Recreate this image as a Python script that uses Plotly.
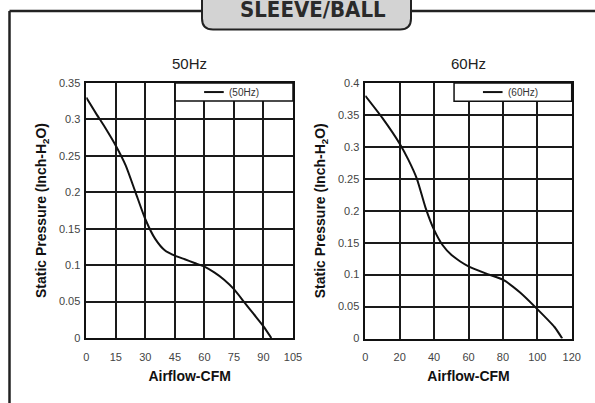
import plotly.graph_objects as go

# ---- data ----
flow_50 = [0, 5, 10, 15, 20, 25, 30, 35, 40, 45, 50, 55, 60, 65, 70, 75, 80, 85, 90, 94]
pres_50 = [0.330, 0.308, 0.287, 0.264, 0.237, 0.200, 0.163, 0.136, 0.120, 0.113,
           0.108, 0.103, 0.098, 0.090, 0.080, 0.067, 0.050, 0.033, 0.016, 0.0]
flow_60 = [0, 10, 20, 25, 30, 35, 40, 45, 50, 55, 60, 70, 80, 90, 100, 110, 114.5]
pres_60 = [0.380, 0.345, 0.305, 0.280, 0.250, 0.205, 0.170, 0.146, 0.131, 0.121,
           0.113, 0.102, 0.092, 0.072, 0.046, 0.018, 0.0]
x_ticks_50 = [0, 15, 30, 45, 60, 75, 90, 105]
y_ticks_50 = [0, 0.05, 0.1, 0.15, 0.2, 0.25, 0.3, 0.35]
x_ticks_60 = [0, 20, 40, 60, 80, 100, 120]
y_ticks_60 = [0, 0.05, 0.1, 0.15, 0.2, 0.25, 0.3, 0.35, 0.4]
panel_titles = ["50Hz", "60Hz"]
legend_names = ["(50Hz)", "(60Hz)"]
header = "SLEEVE/BALL"

W, H = 595, 403
def px(x):
    return x / W
def py(y):
    return 1 - y / H

FONT = "Liberation Sans, Arial, sans-serif"
fig = go.Figure()

fig.add_trace(go.Scatter(x=flow_50, y=pres_50, mode="lines", name=legend_names[0],
                         line=dict(color="#111", width=2, shape="spline", smoothing=0.6),
                         xaxis="x", yaxis="y", showlegend=False, hoverinfo="skip"))
fig.add_trace(go.Scatter(x=flow_60, y=pres_60, mode="lines", name=legend_names[1],
                         line=dict(color="#111", width=2, shape="spline", smoothing=0.6),
                         xaxis="x2", yaxis="y2", showlegend=False, hoverinfo="skip"))

ytitle = "<b>Static Pressure (Inch-H<sub>2</sub>O)</b>"
common_ax = dict(showgrid=True, gridcolor="#1a1a1a", gridwidth=1.5, showline=True,
                 linecolor="#111", linewidth=1.5, mirror=True, zeroline=False, automargin=False,
                 ticks="", tickfont=dict(family=FONT, size=11, color="#444"))
xt = dict(text="<b>Airflow-CFM</b>", font=dict(family=FONT, size=14, color="#111"), standoff=9)
yt = dict(text=ytitle, font=dict(family=FONT, size=14, color="#111"), standoff=9)

fig.update_layout(
    width=W, height=H, margin=dict(l=0, r=0, t=0, b=0),
    paper_bgcolor="white", plot_bgcolor="white", showlegend=False,
    xaxis=dict(domain=[px(86.3), px(293)], range=[0, 105], tickvals=x_ticks_50,
               title=xt, anchor="y", ticklabelstandoff=8, **common_ax),
    yaxis=dict(domain=[py(338), py(83)], range=[0, 0.35], tickvals=y_ticks_50,
               ticktext=[f"{v:g}" for v in y_ticks_50],
               title=yt, anchor="x", ticklabelstandoff=2, **common_ax),
    xaxis2=dict(domain=[px(365.3), px(571.7)], range=[0, 120], tickvals=x_ticks_60,
                title=xt, anchor="y2", ticklabelstandoff=8, **common_ax),
    yaxis2=dict(domain=[py(338.5), py(83)], range=[0, 0.4], tickvals=y_ticks_60,
                ticktext=[f"{v:g}" for v in y_ticks_60],
                title=yt, anchor="x2", ticklabelstandoff=2, **common_ax),
)

shapes = []
annotations = []
# legends (manual boxes in axis-domain coordinates)
for xr, yr, name in [("x domain", "y domain", legend_names[0]),
                     ("x2 domain", "y2 domain", legend_names[1])]:
    shapes.append(dict(type="rect", xref=xr, yref=yr, x0=0.43, x1=1, y0=0.929, y1=1,
                       fillcolor="white", line=dict(color="#111", width=1.5), layer="above"))
    shapes.append(dict(type="line", xref=xr, yref=yr, x0=0.57, x1=0.665, y0=0.9645, y1=0.9645,
                       line=dict(color="#111", width=2), layer="above"))
    annotations.append(dict(text=name, xref=xr, yref=yr, x=0.68, y=0.9645, xanchor="left",
                            yanchor="middle", showarrow=False,
                            font=dict(family=FONT, size=10, color="#333")))

# panel titles
annotations.append(dict(text=panel_titles[0], xref="x domain", yref="paper", x=0.5, y=py(63),
                        showarrow=False, font=dict(family=FONT, size=15, color="#222"), yanchor="middle"))
annotations.append(dict(text=panel_titles[1], xref="x2 domain", yref="paper", x=0.5, y=py(63),
                        showarrow=False, font=dict(family=FONT, size=15, color="#222"), yanchor="middle"))

# outer frame
shapes.append(dict(type="line", xref="paper", yref="paper", x0=px(9.5), x1=px(9.5), y0=py(11), y1=0,
                   line=dict(color="#222", width=2.5)))
shapes.append(dict(type="line", xref="paper", yref="paper", x0=px(9.5), x1=px(202), y0=py(11), y1=py(11),
                   line=dict(color="#222", width=2.5)))
shapes.append(dict(type="line", xref="paper", yref="paper", x0=px(411), x1=1, y0=py(11), y1=py(11),
                   line=dict(color="#222", width=2.5)))

# header rounded box
bx0, bx1, by0, by1, r = 202, 411, -6, 29.5, 11
path = (f"M {px(bx0)},{py(by0)} L {px(bx0)},{py(by1 - r)} "
        f"Q {px(bx0)},{py(by1)} {px(bx0 + r)},{py(by1)} "
        f"L {px(bx1 - r)},{py(by1)} Q {px(bx1)},{py(by1)} {px(bx1)},{py(by1 - r)} "
        f"L {px(bx1)},{py(by0)} Z")
shapes.append(dict(type="path", xref="paper", yref="paper", path=path,
                   fillcolor="#d3d3d3", line=dict(color="#222", width=2)))
annotations.append(dict(text=header, xref="paper", yref="paper", x=px(313), y=py(9.5),
                        showarrow=False, xanchor="center", yanchor="middle",
                        font=dict(family="DejaVu Sans Condensed, Liberation Sans Narrow, sans-serif",
                                  size=22, color="#2a2a2a", weight=600)))

fig.update_layout(shapes=shapes, annotations=annotations)
fig.write_html("out.html", config={"displayModeBar": False},
               post_script="document.body.style.margin='0';document.body.style.overflow='hidden';")
